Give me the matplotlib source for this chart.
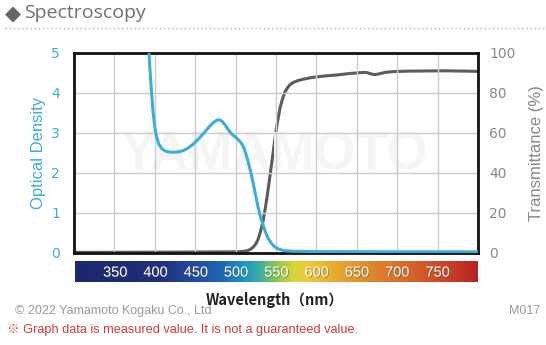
import numpy as np
import matplotlib
matplotlib.use("Agg")
import matplotlib.pyplot as plt
import matplotlib.patheffects as pe
from matplotlib.colors import LinearSegmentedColormap

# optical density (left axis)
od_wl = [390, 392, 394, 396, 398, 400, 402, 405, 409, 414, 420, 427, 434, 441,
         448, 455, 462, 468, 473, 477, 480, 483, 487, 491, 495, 499, 503, 507,
         510, 513, 516, 519, 522, 525, 528, 531, 534, 537, 540, 544, 548, 553,
         560, 570, 600, 700, 800]
od_val = [5.9, 5.3, 4.6, 4.0, 3.5, 3.15, 2.92, 2.72, 2.6, 2.54, 2.52, 2.52, 2.55, 2.62,
          2.73, 2.87, 3.03, 3.17, 3.27, 3.32, 3.33, 3.3, 3.2, 3.08, 2.98, 2.91, 2.84, 2.75,
          2.64, 2.46, 2.24, 2.0, 1.72, 1.42, 1.13, 0.88, 0.7, 0.52, 0.38, 0.25, 0.16, 0.1,
          0.06, 0.045, 0.035, 0.03, 0.03]

# transmittance (right axis)
t_wl = [300, 400, 500, 510, 515, 519, 522, 525, 528, 531, 534, 537, 540, 543,
        546, 549, 552, 555, 558, 561, 564, 567, 571, 577, 585, 595, 610, 625,
        640, 655, 662, 667, 672, 678, 685, 695, 710, 730, 760, 790, 800]
t_val = [0.3, 0.4, 0.6, 0.8, 1.2, 2, 3, 4.5, 7, 11, 16, 23, 31, 40,
         49, 58, 66, 72.5, 77, 80.5, 82.5, 84, 85.2, 86.2, 87, 87.8, 88.5, 89,
         89.7, 90.2, 90.3, 89.6, 89.2, 89.6, 90.3, 90.7, 90.9, 91, 91.1, 90.9, 90.8]

band_ticks = [350, 400, 450, 500, 550, 600, 650, 700, 750]

blue = "#3aaed8"
gray = "#5c5c5c"

fig = plt.figure(figsize=(5.46, 3.45), dpi=100)

ax = fig.add_axes([74 / 546, 92 / 345, 404 / 546, 200 / 345])
ax.text(548, 2.45, "YAMAMOTO", fontsize=38, fontweight="bold", color="#f5f5f5",
        ha="center", va="center", zorder=0, family="Liberation Sans")
ax.plot(od_wl, od_val, color=blue, lw=2.2, zorder=3, solid_joinstyle="round")
ax.set_xlim(300, 800)
ax.set_ylim(0, 5)
ax.set_xticks(band_ticks)
ax.set_xticklabels([])
ax.tick_params(axis="x", length=0)
ax.set_yticks([0, 1, 2, 3, 4, 5])
ax.tick_params(axis="y", length=0, colors=blue, labelsize=10, pad=10)
ax.grid(True, color="#cccccc", lw=1)
ax.set_ylabel("Optical Density", color=blue, fontsize=12, family="Liberation Sans", labelpad=4)
for s in ax.spines.values():
    s.set_linewidth(2)
    s.set_color("#111111")

ax2 = ax.twinx()
ax2.plot(t_wl, t_val, color=gray, lw=2.2, zorder=2, solid_joinstyle="round")
ax2.set_ylim(0, 100)
ax2.set_yticks([0, 20, 40, 60, 80, 100])
ax2.tick_params(axis="y", length=0, colors="#888888", labelsize=10, pad=8)
ax2.set_ylabel("Transmittance (%)", color="#888888", fontsize=12,
               family="Liberation Sans", labelpad=10)
for s in ax2.spines.values():
    s.set_visible(False)
ax.set_zorder(ax2.get_zorder() + 1)
ax.patch.set_visible(False)

# wavelength colour band
cmap = LinearSegmentedColormap.from_list("spec", [
    (0.0, "#1c276c"), (0.2, "#1f2f7a"), (0.28, "#21459a"), (0.36, "#1d66b2"),
    (0.42, "#1b95c8"), (0.46, "#40b0a0"), (0.5, "#8cc84a"), (0.54, "#d5d63a"),
    (0.58, "#f0c936"), (0.64, "#e8ad30"), (0.72, "#e08e2c"), (0.82, "#d86a28"),
    (0.92, "#cc4426"), (1.0, "#b82222")])
cb = fig.add_axes([75 / 546, 63 / 345, 403 / 546, 21 / 345])
cb.imshow(np.linspace(0, 1, 500).reshape(1, -1), cmap=cmap, aspect="auto",
          extent=[300, 800, 0, 1])
cb.set_xlim(300, 800)
cb.set_axis_off()
for w in band_ticks:
    cb.text(w, 0.45, str(w), color="white", fontsize=10.5, ha="center", va="center",
            family="Liberation Sans",
            path_effects=[pe.withSimplePatchShadow(offset=(0.6, -0.6), shadow_rgbFace="#555555", alpha=0.6)])

# header
fig.text(5 / 546, 1 - 14 / 345, "◆", color="#666666", fontsize=15, va="center", family="DejaVu Sans")
fig.text(24 / 546, 1 - 13 / 345, "Spectroscopy", color="#707070", fontsize=14, va="center",
         family="Open Sans")
fig.add_artist(plt.Line2D([5 / 546, 1], [1 - 28 / 345, 1 - 28 / 345], color="#b0b0b0",
                          lw=1, ls=(0, (1, 2))))

# footer
fig.text(275 / 546, 1 - 300 / 345, "Wavelength（nm）", color="#222222", fontsize=10.5,
         fontweight="bold", ha="center", va="center", family=["Noto Sans CJK JP", "DejaVu Sans"])
fig.text(15 / 546, 1 - 311 / 345, "© 2022 Yamamoto Kogaku Co., Ltd", color="#9a9a9a",
         fontsize=9, va="center", family="Liberation Sans")
fig.text(540 / 546, 1 - 311 / 345, "M017", color="#9a9a9a", fontsize=9, ha="right",
         va="center", family="Liberation Sans")
fig.text(7 / 546, 1 - 330 / 345, "※ Graph data is measured value. It is not a guaranteed value.",
         color="#d03a3a", fontsize=9.2, va="center", family=["Liberation Sans", "Noto Sans CJK JP"])

fig.savefig("out.png", dpi=100)
